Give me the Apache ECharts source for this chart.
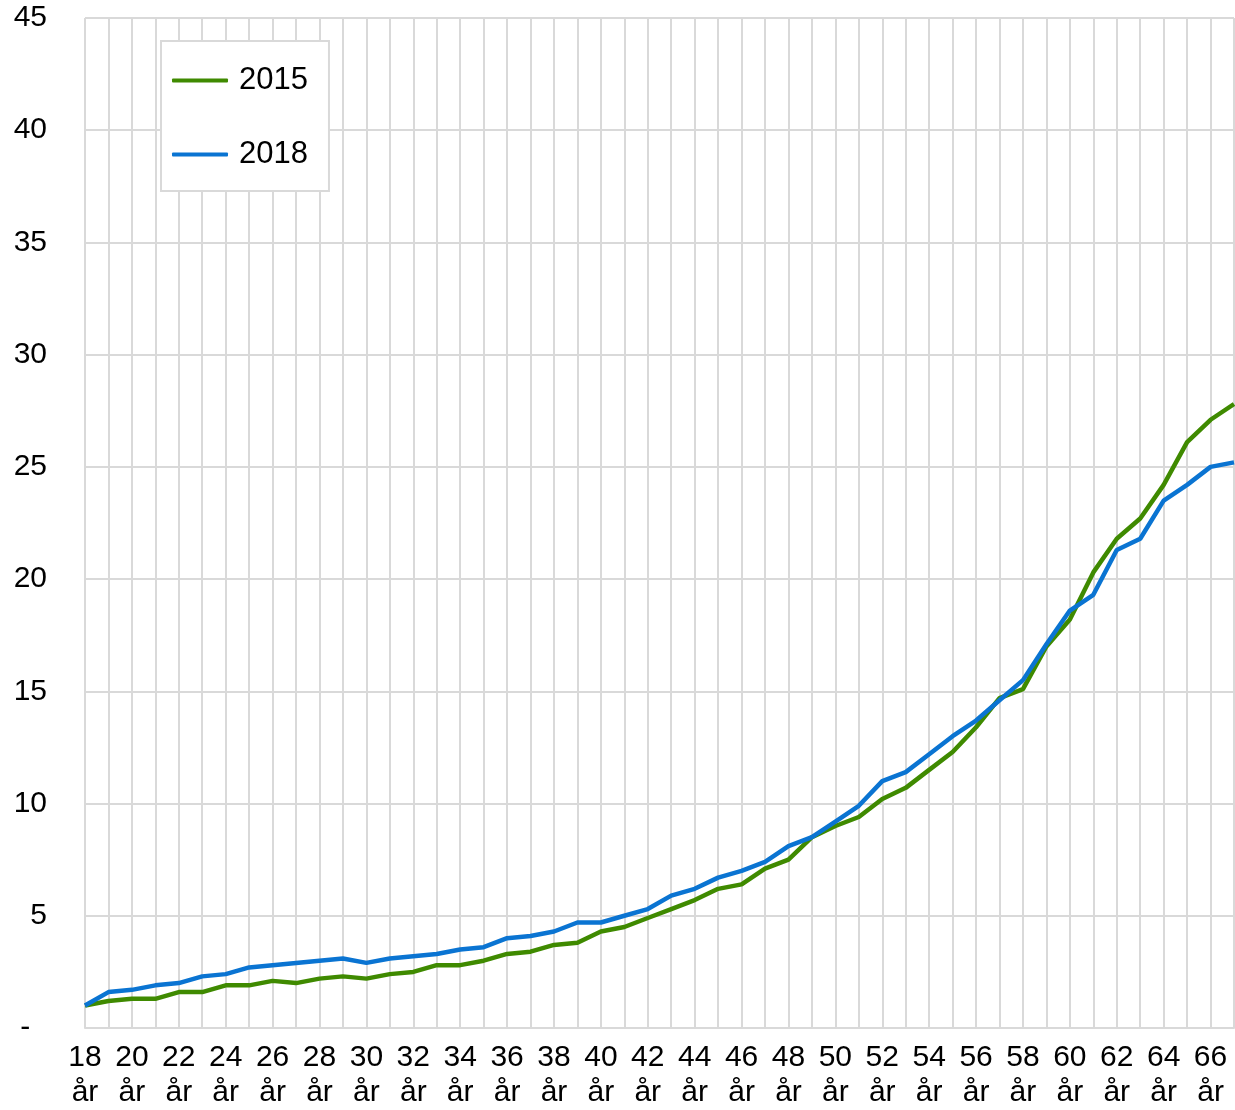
<!DOCTYPE html>
<html>
<head>
<meta charset="utf-8">
<script src="https://cdn.jsdelivr.net/npm/echarts@6/dist/echarts.min.js"></script>
<style>
html,body{margin:0;padding:0;background:#fff;}
#chart{width:1235px;height:1110px;}
</style>
</head>
<body>
<div id="chart"></div>
<script>
var ages = [];
for (var a = 18; a <= 67; a++) { ages.push(a + '\når'); }

var seriesNames = ['2015', '2018'];

var values2015 = [
  1.0, 1.2, 1.3, 1.3, 1.6, 1.6, 1.9, 1.9, 2.1, 2.0,
  2.2, 2.3, 2.2, 2.4, 2.5, 2.8, 2.8, 3.0, 3.3, 3.4,
  3.7, 3.8, 4.3, 4.5, 4.9, 5.3, 5.7, 6.2, 6.4, 7.1,
  7.5, 8.5, 9.0, 9.4, 10.2, 10.7, 11.5, 12.3, 13.4, 14.7,
  15.1, 17.0, 18.2, 20.3, 21.8, 22.7, 24.2, 26.1, 27.1, 27.8
];

var values2018 = [
  1.0, 1.6, 1.7, 1.9, 2.0, 2.3, 2.4, 2.7, 2.8, 2.9,
  3.0, 3.1, 2.9, 3.1, 3.2, 3.3, 3.5, 3.6, 4.0, 4.1,
  4.3, 4.7, 4.7, 5.0, 5.3, 5.9, 6.2, 6.7, 7.0, 7.4,
  8.1, 8.5, 9.2, 9.9, 11.0, 11.4, 12.2, 13.0, 13.7, 14.6,
  15.5, 17.1, 18.6, 19.3, 21.3, 21.8, 23.5, 24.2, 25.0, 25.2
];

var yTicks = { min: 0, max: 45, interval: 5 };

var colors = ['#3F8A00', '#0A74D2'];
var fontFamily = '"Liberation Sans", Arial, sans-serif';
var gridColor = '#D9D9D9';

var chart = echarts.init(document.getElementById('chart'), null, { renderer: 'canvas' });

chart.setOption({
  animation: false,
  backgroundColor: '#ffffff',
  color: colors,
  grid: { left: 85, right: 1, top: 18, bottom: 82, containLabel: false },
  legend: {
    orient: 'vertical',
    left: 161,
    top: 41,
    padding: [24, 21, 21, 11],
    itemGap: 43,
    itemWidth: 56,
    itemHeight: 4,
    icon: 'roundRect',
    borderColor: gridColor,
    borderWidth: 2,
    backgroundColor: '#ffffff',
    textStyle: { fontFamily: fontFamily, fontSize: 31, lineHeight: 30, color: '#000', padding: [0, 0, 0, 6] },
    data: seriesNames
  },
  xAxis: {
    type: 'category',
    boundaryGap: false,
    data: ages,
    axisLine: { show: true, lineStyle: { color: gridColor, width: 2 } },
    axisTick: { show: false },
    splitLine: { show: true, interval: 0, lineStyle: { color: gridColor, width: 2 } },
    axisLabel: {
      interval: 1,
      margin: 12,
      fontFamily: fontFamily,
      fontSize: 30,
      lineHeight: 35,
      color: '#000'
    }
  },
  yAxis: {
    type: 'value',
    min: yTicks.min,
    max: yTicks.max,
    interval: yTicks.interval,
    axisLine: { show: false },
    axisTick: { show: false },
    splitLine: { show: true, lineStyle: { color: gridColor, width: 2 } },
    axisLabel: {
      margin: 38,
      fontFamily: fontFamily,
      fontSize: 30,
      color: '#000',
      formatter: function (v) { return v === 0 ? '-  ' : String(v); }
    }
  },
  series: [
    {
      name: seriesNames[0],
      type: 'line',
      data: values2015,
      showSymbol: false,
      symbol: 'none',
      lineStyle: { width: 4.5, color: colors[0] },
      itemStyle: { color: colors[0] },
      z: 2
    },
    {
      name: seriesNames[1],
      type: 'line',
      data: values2018,
      showSymbol: false,
      symbol: 'none',
      lineStyle: { width: 4.5, color: colors[1] },
      itemStyle: { color: colors[1] },
      z: 3
    }
  ]
});
</script>
</body>
</html>
